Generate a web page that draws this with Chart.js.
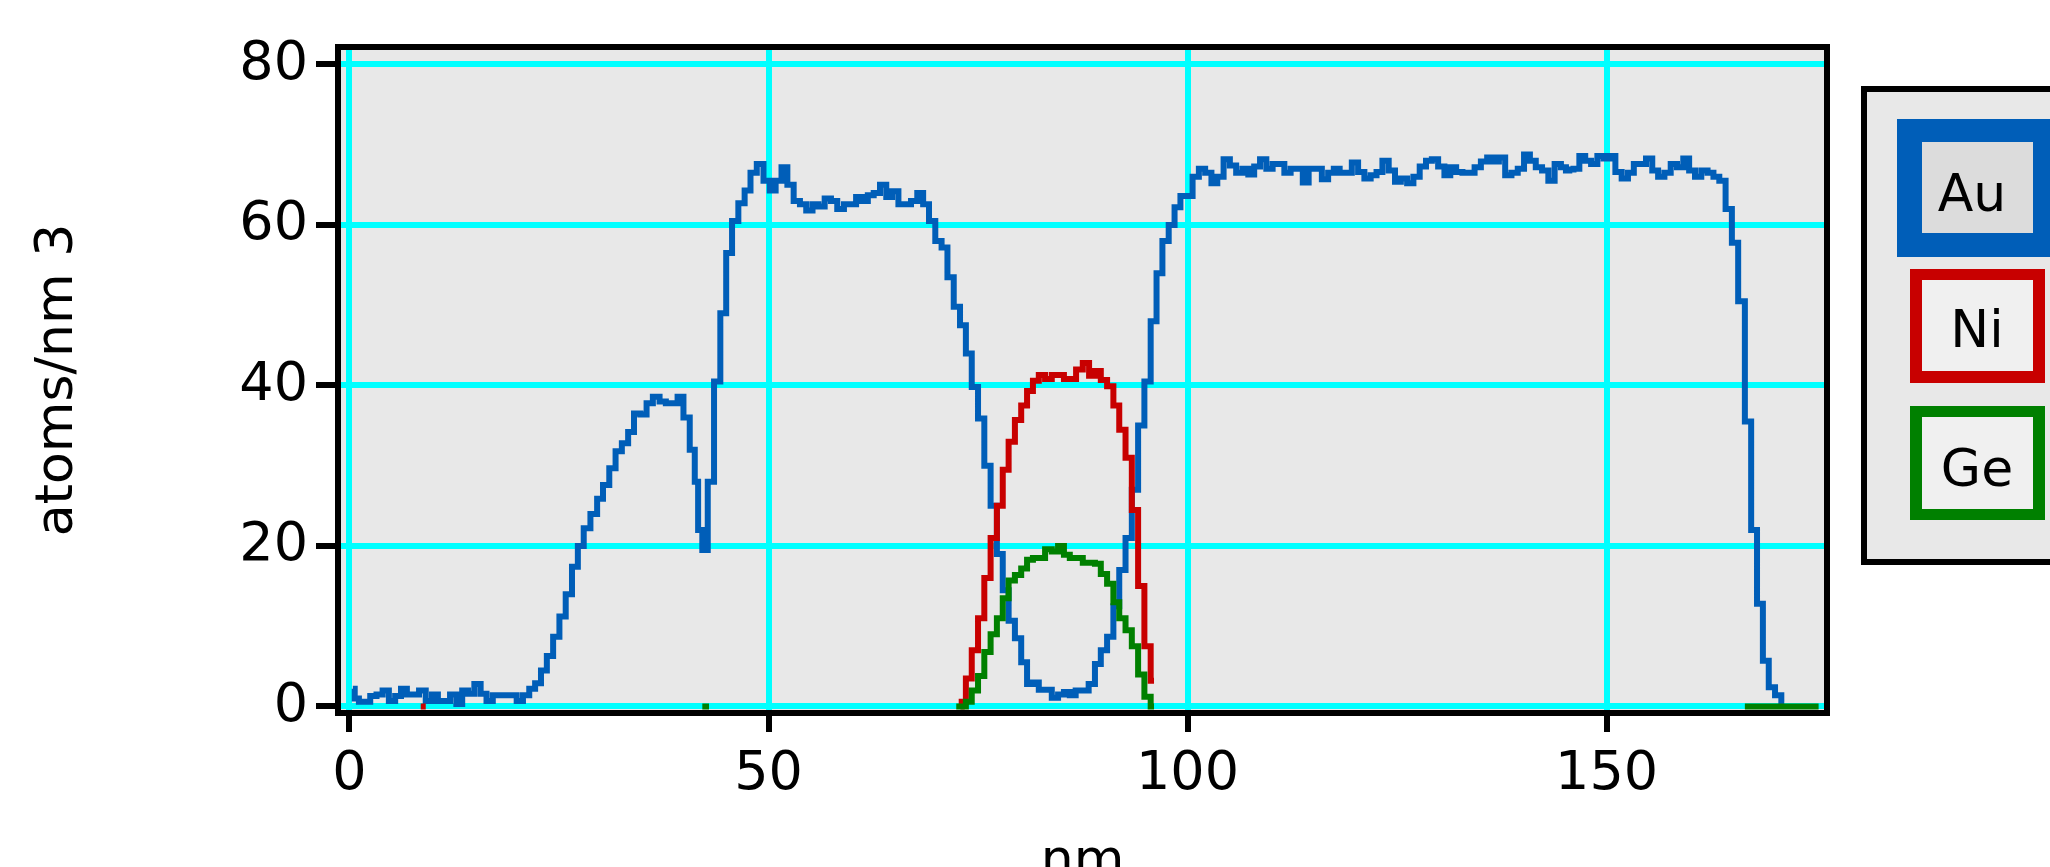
<!DOCTYPE html>
<html><head><meta charset="utf-8">
<script src="https://cdn.jsdelivr.net/npm/chart.js@4/dist/chart.umd.min.js"></script>
<style>html,body{margin:0;padding:0;background:#fff;overflow:hidden}canvas{display:block}</style>
</head><body>
<canvas id="c" width="2050" height="867"></canvas>
<script>
// ---- data ----
const auX = [0.4,0.85,1.4,2.1,2.85,3.6,4.3,5.1,5.8,6.5,7.2,7.9,8.7,9.5,10.2,10.9,11.6,12.4,13.1,13.8,14.5,15.3,16.0,16.7,17.5,18.2,18.9,19.6,20.3,21.1,21.8,22.5,23.2,23.9,24.7,25.4,26.2,26.9,27.6,28.3,29.2,29.9,30.6,31.4,32.1,32.9,33.6,34.3,35.1,35.8,36.6,37.4,38.1,38.8,39.5,40.2,41.0,41.4,41.8,42.4,43.1,43.9,44.6,45.3,46.0,46.8,47.5,48.2,49.0,49.8,50.5,51.2,51.9,52.6,53.4,54.1,54.9,55.6,56.3,57.1,57.8,
58.6,59.4,60.1,60.8,61.5,62.2,62.9,63.7,64.4,65.1,65.9,66.6,67.4,68.1,68.8,69.5,70.3,71.0,71.7,72.5,73.2,73.9,74.6,75.4,76.1,76.9,77.6,78.3,79.0,79.8,80.5,81.2,81.9,82.6,83.4,84.2,84.9,85.6,86.3,87.0,87.8,88.6,89.3,90.0,90.8,91.5,92.2,93.0,93.7,94.5,95.2,96.0,96.6,97.4,98.1,98.8,99.5,100.2,101.0,101.7,102.5,103.2,103.9,104.7,105.4,106.2,106.9,107.6,108.3,109.0,109.8,110.5,111.2,111.9,112.7,113.4,114.1,114.8,115.6,
116.45,117.1,117.8,118.5,119.2,120.0,120.7,121.5,122.2,122.9,123.6,124.4,125.1,125.8,126.6,127.3,128.1,128.8,129.5,130.3,131.0,131.7,132.4,133.2,133.9,134.6,135.4,136.1,136.8,137.5,138.3,139.0,139.8,140.5,141.2,141.9,142.7,143.4,144.2,144.9,145.4,
145.7,146.4,147.1,147.8,148.5,149.3,150.0,150.7,151.4,152.2,152.9,153.6,154.3,155.1,155.8,156.5,157.3,158.0,158.8,159.5,160.2,160.9,161.7,162.4,163.1,163.8,164.6,165.3,166.1,166.9,167.6,168.3,169.0,169.7,170.5,171.2];
const auY = [2.2,1.0,0.6,0.6,1.3,1.5,2.0,0.7,1.3,2.2,1.5,1.5,2.0,0.7,1.5,0.7,0.7,1.5,0.3,2.0,1.6,2.8,1.6,0.7,1.4,1.4,1.4,1.4,0.7,1.4,2.2,2.9,4.5,6.3,8.7,11.2,14.0,17.4,20.0,22.2,24.0,25.9,27.6,29.7,31.8,32.8,34.2,36.5,36.4,37.8,38.6,38.0,37.8,37.8,38.6,36.0,32.0,28.0,22.0,19.5,28.0,40.5,49.0,56.5,60.5,62.7,64.3,66.5,67.6,65.5,64.3,65.5,67.2,65.0,63.0,62.6,61.8,62.6,62.3,63.3,63.0,
62.0,62.6,62.6,63.5,63.0,63.7,64.0,65.0,63.5,64.2,62.6,62.6,63.0,64.0,62.6,60.5,58.0,57.2,53.5,49.8,47.5,44.0,39.8,35.9,30.0,25.0,19.0,14.5,10.7,8.5,5.5,2.8,3.0,2.1,2.1,1.1,1.5,1.8,1.4,2.0,2.0,2.8,5.3,7.0,8.7,12.5,17.0,21.0,27.0,35.0,40.5,48.0,54.0,58.0,60.0,62.2,63.6,63.6,66.0,67.0,66.5,65.2,66.0,68.2,67.4,66.5,67.0,66.3,67.3,68.2,67.0,67.6,67.6,66.5,67.0,67.0,65.3,67.0,67.0,
65.7,66.5,67.0,66.5,66.5,67.8,66.6,65.8,66.2,66.6,68.0,66.8,65.4,65.8,65.2,66.0,67.3,68.0,68.2,67.3,66.2,67.2,66.6,66.5,66.5,67.2,67.9,68.4,67.9,68.4,66.2,66.5,67.0,68.8,68.0,67.2,66.8,65.5,67.6,67.2,66.8,
66.9,67.0,68.6,68.0,67.6,68.6,68.3,68.6,66.6,65.8,66.5,67.6,67.6,68.3,66.8,66.0,66.5,67.6,67.2,68.3,66.8,66.0,66.8,66.5,66.0,65.5,62.0,57.8,50.5,35.5,22.0,12.8,5.7,2.4,1.4,0.6];

const niX = [8.5,9.1,40,72.9,73.2,73.9,74.6,75.4,76.1,76.9,77.6,78.3,79.0,79.8,80.5,81.2,81.9,82.6,83.4,84.2,84.9,85.6,86.3,87.1,87.9,88.6,89.3,90.0,90.8,91.5,92.2,93.0,93.7,94.5,95.2,96.0];
const niY = [0,0,null,0,0.6,3.5,7.0,11.0,16.0,21.0,25.0,29.5,33.0,35.7,37.5,39.3,40.6,41.3,40.8,41.3,41.3,40.8,40.8,42.0,42.8,41.2,41.8,40.7,39.9,37.5,34.5,31.0,24.5,15.0,7.5,3.2];

const geX = [42.1,42.9,60,72.4,73.2,73.9,74.6,75.4,76.1,76.9,77.6,78.3,79.0,79.8,80.5,81.2,81.9,82.6,83.4,84.2,84.9,85.6,86.3,87.1,87.9,88.6,89.3,90.0,90.8,91.5,92.2,93.0,93.7,94.5,95.2,96.0,130,166.5,175.3];
const geY = [0,0,null,0,0,0.6,2.0,3.8,6.8,9.0,11.0,13.5,15.7,16.4,17.2,18.3,18.5,18.5,19.6,19.3,20.0,18.9,18.5,18.5,17.9,17.9,17.8,16.5,15.3,13.0,11.0,9.5,7.5,4.0,1.2,0,null,0,0];

const seriesNames = ['Au', 'Ni', 'Ge'];
const seriesColors = ['#005EB8', '#C80000', '#008000'];
const xTicks = [0, 50, 100, 150];
const yTicks = [0, 20, 40, 60, 80];
const xTitle = 'nm';
const yTitle = 'atoms/nm 3';

// ---- chart ----
const FONT = "'DejaVu Sans', Verdana, sans-serif";
function pts(xs, ys) { return xs.map((x, i) => ({ x: x, y: ys[i] })); }

const decor = {
  id: 'decor',
  beforeDraw(chart) {
    const ctx = chart.ctx, a = chart.chartArea;
    ctx.save();
    ctx.fillStyle = '#ffffff';
    ctx.fillRect(0, 0, chart.width, chart.height);
    ctx.fillStyle = '#E8E8E8';
    ctx.fillRect(a.left, a.top, a.right - a.left, a.bottom - a.top);
    ctx.restore();
  },
  afterDatasetsDraw(chart) {
    const ctx = chart.ctx, a = chart.chartArea;
    ctx.save();
    ctx.strokeStyle = '#000';
    ctx.lineWidth = 6;
    ctx.strokeRect(a.left, a.top, a.right - a.left, a.bottom - a.top);
    ctx.restore();
  },
  afterDraw(chart) {
    const ctx = chart.ctx, a = chart.chartArea;
    ctx.save();
    ctx.fillStyle = '#000';
    ctx.font = '52px ' + FONT;
    ctx.textAlign = 'center';
    ctx.textBaseline = 'alphabetic';
    // x title
    ctx.fillText(xTitle, (a.left + a.right) / 2, 876);
    // y title
    ctx.save();
    ctx.translate(72, (a.top + a.bottom) / 2);
    ctx.rotate(-Math.PI / 2);
    ctx.fillText(yTitle, 0, 0);
    ctx.restore();
    // legend frame
    ctx.fillStyle = '#E8E8E8';
    ctx.fillRect(1864, 89, 300, 473);
    ctx.strokeStyle = '#000';
    ctx.lineWidth = 6;
    ctx.strokeRect(1864, 89, 300, 473);
    const items = [
      { o: [1897, 119, 160, 138], i: [1922, 142, 111, 91], fill: '#DCDCDC', tx: 1972, ty: 211 },
      { o: [1910, 269, 135, 114], i: [1922, 280, 111, 91], fill: '#F0F0F0', tx: 1977, ty: 347 },
      { o: [1910, 406, 135, 114], i: [1922, 417, 111, 92], fill: '#F0F0F0', tx: 1977, ty: 486 }
    ];
    chart.data.datasets.forEach((ds, k) => {
      const it = items[k];
      ctx.fillStyle = ds.borderColor;
      ctx.fillRect(...it.o);
      ctx.fillStyle = it.fill;
      ctx.fillRect(...it.i);
      ctx.fillStyle = '#000';
      ctx.fillText(ds.label, it.tx, it.ty);
    });
    ctx.restore();
  }
};

new Chart(document.getElementById('c'), {
  type: 'line',
  data: {
    datasets: [
      { label: seriesNames[0], data: pts(auX, auY), borderColor: seriesColors[0], order: 2 },
      { label: seriesNames[1], data: pts(niX, niY), borderColor: seriesColors[1], order: 1 },
      { label: seriesNames[2], data: pts(geX, geY), borderColor: seriesColors[2], order: 0 }
    ]
  },
  options: {
    responsive: false,
    animation: false,
    devicePixelRatio: 1,
    spanGaps: false,
    layout: { padding: { left: 0, right: 223, top: 47, bottom: 0 } },
    elements: {
      line: { borderWidth: 6, tension: 0, stepped: 'middle', borderCapStyle: 'butt', borderJoinStyle: 'miter', fill: false },
      point: { radius: 0, hoverRadius: 0 }
    },
    plugins: { legend: { display: false }, tooltip: { enabled: false } },
    scales: {
      x: {
        type: 'linear', min: -1.37, max: 176.3,
        afterBuildTicks: s => { s.ticks = xTicks.map(v => ({ value: v })); },
        afterFit: s => { s.height = 154; },
        grid: { color: '#00FFFF', lineWidth: 6, drawTicks: true, tickLength: 19, tickColor: '#000', tickWidth: 6 },
        border: { display: false },
        ticks: { font: { family: FONT, size: 54 }, color: '#000', padding: 11, maxRotation: 0, autoSkip: false }
      },
      y: {
        type: 'linear', min: -0.81, max: 82.18,
        afterBuildTicks: s => { s.ticks = yTicks.map(v => ({ value: v })); },
        afterFit: s => { s.width = 338; },
        grid: { color: '#00FFFF', lineWidth: 6, drawTicks: true, tickLength: 22, tickColor: '#000', tickWidth: 6 },
        border: { display: false },
        ticks: { font: { family: FONT, size: 54 }, color: '#000', padding: 8, autoSkip: false }
      }
    }
  },
  plugins: [decor]
});
</script>
</body></html>
